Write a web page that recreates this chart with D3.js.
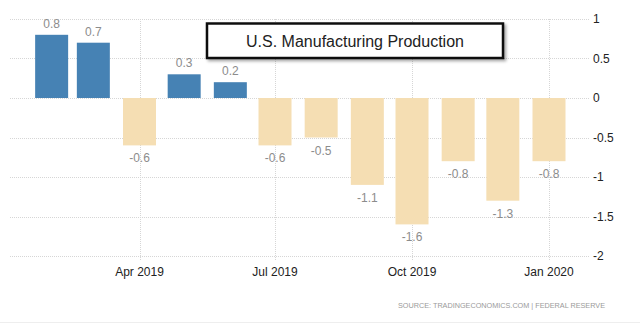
<!DOCTYPE html>
<html><head><meta charset="utf-8">
<script src="https://cdn.jsdelivr.net/npm/d3@7"></script>
<style>
body{margin:0;background:#fff;}
svg{display:block;}
</style></head>
<body>
<script>
const months = ["2019-02","2019-03","2019-04","2019-05","2019-06","2019-07","2019-08","2019-09","2019-10","2019-11","2019-12","2020-01"];
const values = [0.8,0.7,-0.6,0.3,0.2,-0.6,-0.5,-1.1,-1.6,-0.8,-1.3,-0.8];
const yTicks = [1,0.5,0,-0.5,-1,-1.5,-2];
const xTickMonths = ["2019-04","2019-07","2019-10","2020-01"];
const xTickLabels = ["Apr 2019","Jul 2019","Oct 2019","Jan 2020"];
const title = "U.S. Manufacturing Production";
const source = "SOURCE: TRADINGECONOMICS.COM | FEDERAL RESERVE";

const W=640,H=325;
const parse = d3.utcParse("%Y-%m");
const svg = d3.select("body").append("svg").attr("width",W).attr("height",H);

const x = d3.scaleUtc().domain([parse("2019-04"),parse("2020-01")]).range([139.5,549]);
const y = d3.scaleLinear().domain([-2,1]).range([256,19]);
const left=10,right=589;

// horizontal grid
svg.append("g").selectAll("line").data(yTicks).join("line")
  .attr("x1",left).attr("x2",right).attr("y1",d=>Math.round(y(d))+0.5).attr("y2",d=>Math.round(y(d))+0.5)
  .attr("stroke","#d6d6d6").attr("stroke-dasharray","1,1");
// vertical grid
svg.append("g").selectAll("line").data(xTickMonths).join("line")
  .attr("x1",d=>Math.round(x(parse(d)))+0.5).attr("x2",d=>Math.round(x(parse(d)))+0.5)
  .attr("y1",y(1)).attr("y2",260)
  .attr("stroke","#d6d6d6").attr("stroke-dasharray","1,1");

const bw=33;
svg.append("g").selectAll("rect").data(values).join("rect")
  .attr("x",(d,i)=>x(parse(months[i]))-bw/2)
  .attr("width",bw)
  .attr("y",d=>d>=0?y(d):y(0))
  .attr("height",d=>Math.abs(y(d)-y(0)))
  .attr("fill",d=>d>=0?"#4682b4":"#f5deb3");

svg.append("g").selectAll("text").data(values).join("text")
  .attr("x",(d,i)=>x(parse(months[i])))
  .attr("y",d=>d>=0?y(d)-7:y(d)+17)
  .attr("text-anchor","middle")
  .attr("font-family","Liberation Sans Narrow, Liberation Sans, Arial")
  .attr("font-size",12).attr("fill","#8c8c8c")
  .text(d=>d.toFixed(1));

// y labels
svg.append("g").selectAll("text").data(yTicks).join("text")
  .attr("x",593).attr("y",d=>y(d)+4)
  .attr("font-family","Liberation Sans Narrow, Liberation Sans, Arial")
  .attr("font-size",12).attr("fill","#222")
  .text(d=>d);

// x labels
svg.append("g").selectAll("text").data(xTickMonths).join("text")
  .attr("x",d=>x(parse(d))).attr("y",276)
  .attr("text-anchor","middle")
  .attr("font-family","Liberation Sans Narrow, Liberation Sans, Arial")
  .attr("font-size",12).attr("fill","#222")
  .text((d,i)=>xTickLabels[i]);

// title box
const defs=svg.append("defs");
const f=defs.append("filter").attr("id","sh").attr("x","-10%").attr("y","-30%").attr("width","130%").attr("height","180%");
f.append("feDropShadow").attr("dx",2).attr("dy",2).attr("stdDeviation",1.5).attr("flood-color","#000").attr("flood-opacity",0.35);
svg.append("rect").attr("x",207).attr("y",23.5).attr("width",296).attr("height",34.5)
  .attr("fill","#fff").attr("stroke","#111").attr("stroke-width",2.5).attr("filter","url(#sh)");
svg.append("text").attr("x",355).attr("y",46.5).attr("text-anchor","middle")
  .attr("font-family","Liberation Sans, Arial").attr("font-size",16).attr("fill","#222").text(title);

// source
svg.append("text").attr("x",398).attr("y",308)
  .attr("font-family","Liberation Sans, Arial").attr("font-size",8)
  .attr("textLength",207).attr("lengthAdjust","spacingAndGlyphs")
  .attr("fill","#9a9a9a").text(source);
svg.append("line").attr("x1",0).attr("x2",W).attr("y1",322.5).attr("y2",322.5).attr("stroke","#eee");
</script>
</body></html>
